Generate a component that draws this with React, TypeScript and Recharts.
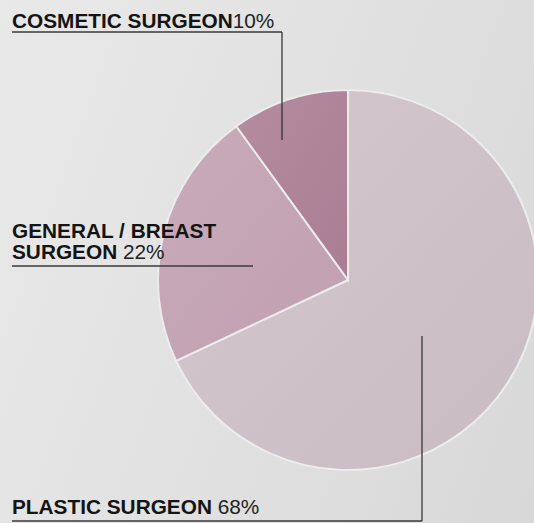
import { PieChart, Pie, Cell } from "recharts";

const categories = ["PLASTIC SURGEON", "GENERAL / BREAST SURGEON", "COSMETIC SURGEON"];
const shares = [68, 22, 10];
const labelLines = [["PLASTIC SURGEON"], ["GENERAL / BREAST", "SURGEON"], ["COSMETIC SURGEON"]];
const labelGaps = [" ", " ", ""];

const W = 534;
const H = 523;
const FONT = "'Liberation Sans', Arial, Helvetica, sans-serif";

// slice fills: [light, dark] for a soft diagonal gradient
const fills = [
  ["#d4c8ce", "#c9bbc2"],
  ["#c8abba", "#c19fb0"],
  ["#b58ca0", "#aa7d93"],
];

// where each annotation sits: text baseline, underline, optional vertical leader
const notes = [
  { x: 12, y: 514, lead: 18, lineY: 521, lineEnd: 422, vx: 422, vy: 336 },
  { x: 12, y: 237.5, lead: 21.8, lineY: 266, lineEnd: 253, vx: null, vy: null },
  { x: 12, y: 27.5, lead: 18, lineY: 32, lineEnd: 282, vx: 282, vy: 140 },
];

const data = categories.map((name, i) => ({ name, value: shares[i] }));

function renderLabel(props: any) {
  const i = props.index;
  const n = notes[i];
  const lines = labelLines[i];
  return (
    <g key={"lbl" + i}>
      {lines.map((ln, j) => (
        <text key={j} x={n.x} y={n.y + j * n.lead} fontFamily={FONT} fontSize={20.8} fill="#141414" textAnchor="start">
          <tspan fontWeight={700}>{ln}</tspan>
          {j === lines.length - 1 ? (
            <tspan fontWeight={400} fill="#222">{labelGaps[i] + shares[i] + "%"}</tspan>
          ) : null}
        </text>
      ))}
      <line x1={n.x} y1={n.lineY} x2={n.lineEnd} y2={n.lineY} stroke="#3a3a3a" strokeWidth={1.5} />
      {n.vx != null ? (
        <line x1={n.vx} y1={n.lineY} x2={n.vx} y2={n.vy} stroke="#2a2a2a" strokeWidth={1.2} />
      ) : null}
    </g>
  );
}

export default function App() {
  return (
    <div
      style={{
        position: "fixed",
        left: 0,
        top: 0,
        width: W,
        height: H,
        overflow: "hidden",
        background: "linear-gradient(110deg, #e9e9e9 0%, #e1e1e1 50%, #d8d8d8 100%)",
      }}
    >
      <PieChart width={W} height={H} margin={{ top: 0, right: 0, bottom: 0, left: 0 }}>
        <defs>
          {fills.map((f, i) => (
            <linearGradient key={i} id={"slice" + i} x1="0" y1="0" x2="1" y2="1">
              <stop offset="0%" stopColor={f[0]} />
              <stop offset="100%" stopColor={f[1]} />
            </linearGradient>
          ))}
        </defs>
        <Pie
          data={data}
          dataKey="value"
          nameKey="name"
          cx={348}
          cy={280}
          outerRadius={190}
          startAngle={90}
          endAngle={-270}
          stroke="#ececec"
          strokeWidth={2}
          label={renderLabel}
          labelLine={false}
          isAnimationActive={false}
        >
          {data.map((d, i) => (
            <Cell key={d.name} fill={`url(#slice${i})`} />
          ))}
        </Pie>
      </PieChart>
    </div>
  );
}
